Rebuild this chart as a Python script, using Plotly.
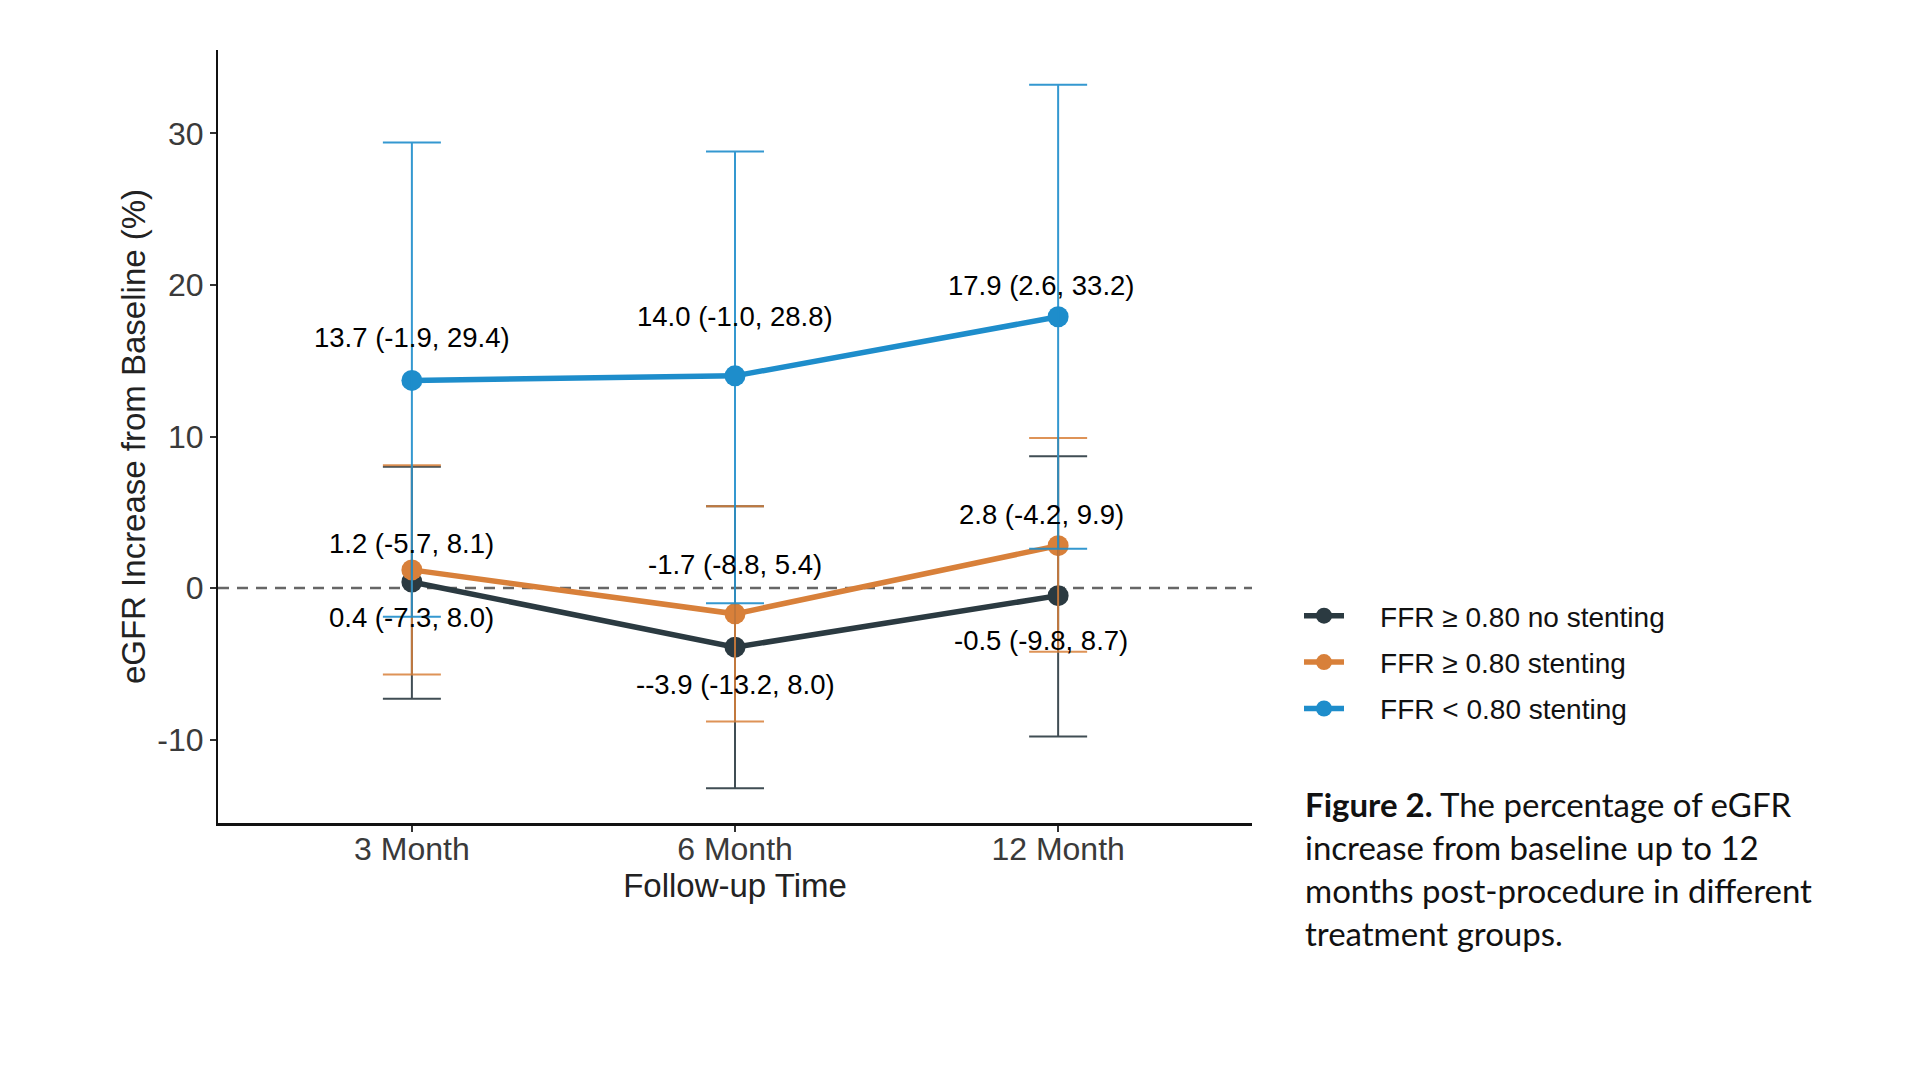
import plotly.graph_objects as go

# ---------------- data ----------------
timepoints = ["3 Month", "6 Month", "12 Month"]

series_names = ["FFR \u2265 0.80 no stenting", "FFR \u2265 0.80 stenting", "FFR < 0.80 stenting"]

dark_mean = [0.4, -3.9, -0.5]
dark_low = [-7.3, -13.2, -9.8]
dark_high = [8.0, 5.4, 8.7]
dark_labels = ["0.4 (-7.3, 8.0)", "--3.9 (-13.2, 8.0)", "-0.5 (-9.8, 8.7)"]

orange_mean = [1.2, -1.7, 2.8]
orange_low = [-5.7, -8.8, -4.2]
orange_high = [8.1, 5.4, 9.9]
orange_labels = ["1.2 (-5.7, 8.1)", "-1.7 (-8.8, 5.4)", "2.8 (-4.2, 9.9)"]

blue_mean = [13.7, 14.0, 17.9]
blue_low = [-1.9, -1.0, 2.6]
blue_high = [29.4, 28.8, 33.2]
blue_labels = ["13.7 (-1.9, 29.4)", "14.0 (-1.0, 28.8)", "17.9 (2.6, 33.2)"]

y_ticks = [-10, 0, 10, 20, 30]
y_ticktext = ["-10", "0", "10", "20", "30"]

caption_lines = [
    "<b>Figure 2.</b> The percentage of eGFR",
    "increase from baseline up to 12",
    "months post-procedure in different",
    "treatment groups.",
]

# ---------------- styling ----------------
colors = ["#2B3A41", "#D8803A", "#1E8DCB"]
err_colors = ["rgba(43,58,65,0.9)", "rgba(216,128,58,0.85)", "rgba(30,141,203,0.9)"]
label_yshift = [[-35, -37, -45], [26, 49, 31], [43, 59, 31]]
label_xshift = [0, 0, -17]

# page geometry (page pixels; the html body adds an 8px offset)
OFF = 8
PL, PR, PT, PB = 218, 1252, 50, 823          # plot area in page pixels
W, H = 1920 - OFF, 1080 - OFF
L, T = PL - OFF, PT - OFF
R = W - (PR - OFF)
B = H - (PB - OFF)
pw, ph = PR - PL, PB - PT


def px2paper_x(x):
    return (x - PL) / pw


def px2paper_y(y):
    return (PB - y) / ph


groups = [
    (dark_mean, dark_low, dark_high, dark_labels),
    (orange_mean, orange_low, orange_high, orange_labels),
    (blue_mean, blue_low, blue_high, blue_labels),
]

fig = go.Figure()

NB = "\u00a0" * 4

# lines + points
for i, (m, lo, hi, lab) in enumerate(groups):
    fig.add_trace(go.Scatter(
        x=timepoints, y=m, mode="lines+markers", name=NB + series_names[i],
        line=dict(color=colors[i], width=5.5),
        marker=dict(color=colors[i], size=21),
        legendgroup=str(i),
    ))

# error bars on top
for i, (m, lo, hi, lab) in enumerate(groups):
    fig.add_trace(go.Scatter(
        x=timepoints, y=m, mode="markers", showlegend=False,
        marker=dict(size=1, color="rgba(0,0,0,0)"),
        error_y=dict(
            type="data", symmetric=False,
            array=[h - v for h, v in zip(hi, m)],
            arrayminus=[v - l for l, v in zip(lo, m)],
            color=err_colors[i], thickness=2, width=29,
        ),
        hoverinfo="skip",
    ))

annotations = []
for i, (m, lo, hi, lab) in enumerate(groups):
    for j, t in enumerate(timepoints):
        annotations.append(dict(
            x=t, y=m[j], xref="x", yref="y", text=lab[j], showarrow=False,
            yshift=label_yshift[i][j], xshift=label_xshift[j],
            font=dict(family="Liberation Sans, Arial, sans-serif", size=27.5, color="#000000"),
        ))

caption_y = [804, 847, 890, 933]
for k, line in enumerate(caption_lines):
    annotations.append(dict(
        x=px2paper_x(1303), y=px2paper_y(caption_y[k]), xref="paper", yref="paper",
        text=line, showarrow=False, xanchor="left", yanchor="middle", align="left",
        font=dict(family="Lato, Open Sans, sans-serif", size=33, color="#111111"),
    ))

fig.update_layout(
    width=W, height=H,
    margin=dict(l=L, r=R, t=T, b=B),
    paper_bgcolor="white", plot_bgcolor="white",
    font=dict(family="Liberation Sans, Arial, sans-serif", color="#333333"),
    showlegend=True,
    legend=dict(
        x=px2paper_x(1299), y=px2paper_y(591), xanchor="left", yanchor="top",
        font=dict(size=28, color="#111111"), bgcolor="rgba(0,0,0,0)",
        itemwidth=40, tracegroupgap=7, traceorder="grouped",
    ),
    annotations=annotations,
    shapes=[dict(
        type="line", xref="paper", yref="y", x0=0, x1=1, y0=0, y1=0,
        line=dict(color="#666666", width=2.5, dash="11px,8px"), layer="below",
    )],
)

fig.update_xaxes(
    type="category", range=[-0.6, 2.6],
    showline=True, linecolor="#111111", linewidth=2.5,
    ticks="outside", ticklen=6, tickwidth=2, tickcolor="#333333",
    tickfont=dict(size=32, color="#3a3a3a"), ticklabelstandoff=-10,
    title=dict(text="Follow-up Time", font=dict(size=33, color="#222222"), standoff=6),
    showgrid=False, zeroline=False, mirror=False,
)
fig.update_yaxes(
    range=[-15.5, 35.5], tickvals=y_ticks, ticktext=y_ticktext,
    showline=True, linecolor="#111111", linewidth=2.2,
    ticks="outside", ticklen=6, tickwidth=2, tickcolor="#333333",
    tickfont=dict(size=32, color="#3a3a3a"),
    title=dict(text="eGFR Increase from Baseline (%)", font=dict(size=33, color="#222222"), standoff=2),
    showgrid=False, zeroline=False,
)

fig.write_html("out.html")
